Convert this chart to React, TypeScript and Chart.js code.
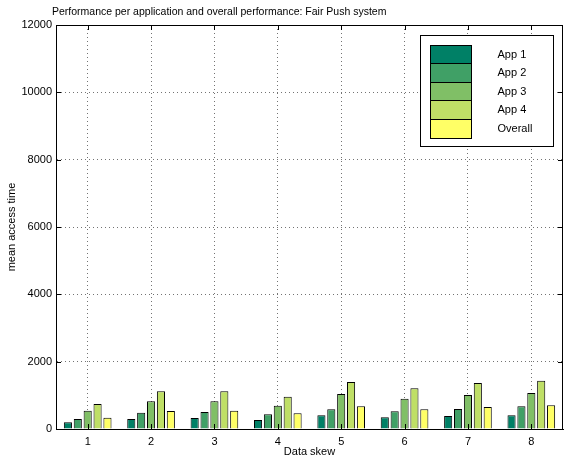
import React, { useEffect, useRef } from "react";
import { Chart, registerables } from "chart.js";

Chart.register(...registerables);

const categories = ["1", "2", "3", "4", "5", "6", "7", "8"];
const app1 = [200, 300, 327, 267, 406, 347, 386, 406];
const app2 = [300, 486, 505, 436, 585, 525, 594, 674];
const app3 = [545, 822, 822, 694, 1040, 902, 1010, 1070];
const app4 = [745, 1120, 1120, 961, 1397, 1208, 1367, 1436];
const overall = [337, 535, 545, 466, 674, 585, 654, 703];
const seriesLabels = ["App 1", "App 2", "App 3", "App 4", "Overall"];
const seriesColors = ["#008066", "#40A066", "#80BF66", "#BFDF66", "#FFFF66"];
const titleText = "Performance per application and overall performance: Fair Push system";
const FONT = "'Liberation Sans', Arial, Helvetica, sans-serif";

const framePlugin = {
  id: "frame",
  afterDraw(chart: any) {
    const { ctx, chartArea } = chart;
    const { left, right, top, bottom } = chartArea;
    ctx.save();
    // title
    ctx.fillStyle = "#000";
    ctx.font = `10.5px ${FONT}`;
    ctx.textAlign = "left";
    ctx.textBaseline = "middle";
    ctx.fillText(titleText, left - 4, 12);
    // box
    ctx.strokeStyle = "#000";
    ctx.lineWidth = 1;
    ctx.setLineDash([]);
    ctx.strokeRect(Math.round(left) + 0.5, Math.round(top) + 0.5, Math.round(right - left) - 1, Math.round(bottom - top));
    // inward ticks
    const tl = 5;
    const xs = chart.scales.x;
    xs.ticks.forEach((_: any, i: number) => {
      const px = Math.round(xs.getPixelForTick(i)) + 0.5;
      ctx.beginPath();
      ctx.moveTo(px, bottom);
      ctx.lineTo(px, bottom - tl);
      ctx.moveTo(px, top);
      ctx.lineTo(px, top + tl);
      ctx.stroke();
    });
    const ys = chart.scales.y;
    ys.ticks.forEach((_: any, i: number) => {
      const py = Math.round(ys.getPixelForTick(i)) + 0.5;
      ctx.beginPath();
      ctx.moveTo(left, py);
      ctx.lineTo(left + tl, py);
      ctx.moveTo(right, py);
      ctx.lineTo(right - tl, py);
      ctx.stroke();
    });
    // legend
    ctx.font = `11px ${FONT}`;
    const bw = 133;
    const bh = 111;
    const bx = Math.round(right - 10 - bw) + 0.5;
    const by = Math.round(top + 10) + 0.5;
    ctx.fillStyle = "#fff";
    ctx.fillRect(bx, by, bw, bh);
    ctx.strokeRect(bx, by, bw, bh);
    const sw = 41;
    const sh = 18.6;
    const sx = bx + 10;
    const sy = by + 9;
    chart.data.datasets.forEach((ds: any, i: number) => {
      const y = Math.round(sy + i * sh) + 0.5;
      const y2 = Math.round(sy + (i + 1) * sh) + 0.5;
      ctx.fillStyle = ds.backgroundColor;
      ctx.fillRect(sx, y, sw, y2 - y);
      ctx.strokeRect(sx, y, sw, y2 - y);
      ctx.fillStyle = "#000";
      ctx.textAlign = "left";
      ctx.textBaseline = "middle";
      ctx.fillText(ds.label, bx + 77, (y + y2) / 2);
    });
    ctx.restore();
  },
};

export default function App() {
  const ref = useRef<HTMLCanvasElement>(null);
  useEffect(() => {
    const series = [app1, app2, app3, app4, overall];
    const chart = new Chart(ref.current as HTMLCanvasElement, {
      type: "bar",
      data: {
        labels: categories,
        datasets: series.map((d, i) => ({
          label: seriesLabels[i],
          data: d,
          backgroundColor: seriesColors[i],
          borderColor: "#000",
          borderWidth: 1,
          categoryPercentage: 0.78,
          barPercentage: 0.82,
        })),
      },
      options: {
        responsive: false,
        animation: false,
        layout: { padding: { top: 25, right: 3, left: 0, bottom: 0 } },
        plugins: {
          legend: { display: false },
          title: { display: false },
          tooltip: { enabled: false },
        },
        scales: {
          x: {
            offset: true,
            afterFit: (s: any) => {
              s.height = 32;
            },
            grid: {
              offset: false,
              drawTicks: false,
              color: "rgba(0,0,0,0.55)",
              lineWidth: 1,
            },
            border: { display: true, color: "#000", width: 1, dash: [1, 3] },
            ticks: { color: "#000", font: { family: FONT, size: 11 }, padding: 6, maxRotation: 0 },
            title: {
              display: true,
              text: "Data skew",
              color: "#000",
              font: { family: FONT, size: 11 },
              padding: { top: 0, bottom: 2 },
            },
          },
          y: {
            min: 0,
            max: 12000,
            afterFit: (s: any) => {
              s.width = 56;
            },
            grid: {
              drawTicks: false,
              color: "rgba(0,0,0,0.55)",
              lineWidth: 1,
            },
            border: { display: true, color: "#000", width: 1, dash: [1, 3] },
            ticks: {
              stepSize: 2000,
              color: "#000",
              font: { family: FONT, size: 11 },
              padding: 4,
              callback: (v: any) => String(v),
            },
            title: {
              display: true,
              text: "mean access time",
              color: "#000",
              font: { family: FONT, size: 11 },
              padding: { top: 5, bottom: 0 },
            },
          },
        },
      },
      plugins: [framePlugin],
    });
    return () => chart.destroy();
  }, []);
  return (
    <div style={{ position: "fixed", left: 0, top: 0, width: 566, height: 461, background: "#fff" }}>
      <canvas ref={ref} width={566} height={461} />
    </div>
  );
}
